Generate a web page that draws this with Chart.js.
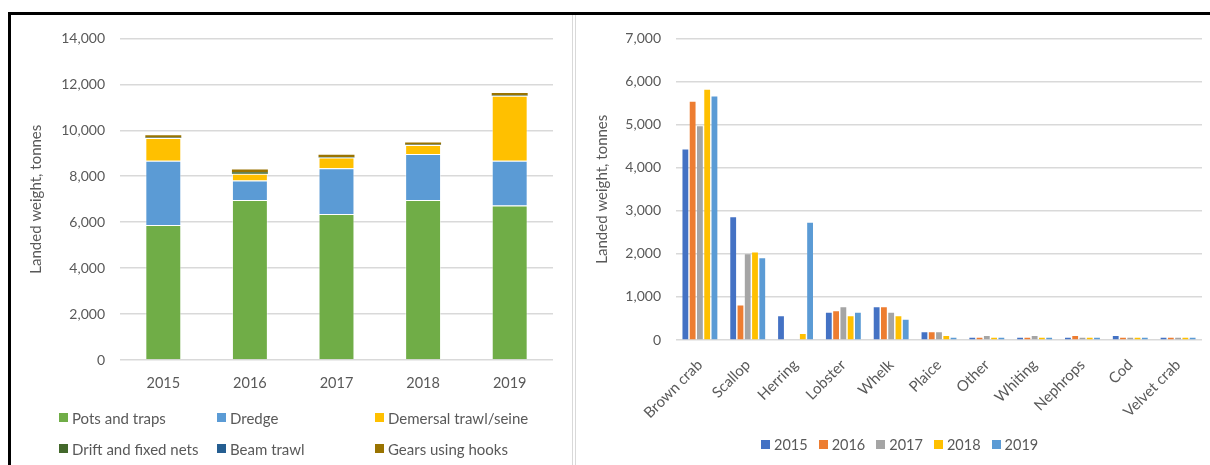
<!DOCTYPE html>
<html>
<head>
<meta charset="utf-8">
<script src="https://cdn.jsdelivr.net/npm/chart.js@4/dist/chart.umd.min.js"></script>
<style>
  body { margin: 0; width: 1210px; height: 465px; position: relative; background: #fff; overflow: hidden; font-family: Lato, sans-serif; }
  .frame-top { position: absolute; left: 8px; top: 12px; width: 1202px; height: 3px; background: #000; }
  .frame-left { position: absolute; left: 8px; top: 12px; width: 3px; height: 453px; background: #000; }
  .divider { position: absolute; top: 15px; width: 1px; height: 450px; background: #d9d9d9; }
  .box { position: absolute; top: 15px; height: 450px; }
  .legend { position: absolute; color: #595959; }
  .legend .item { display: flex; align-items: center; white-space: nowrap; }
  .legend .sw { width: 9px; height: 9px; margin-right: 4px; flex: none; }
  #legendLeft { left: 59px; top: 402px; font-size: 15px; display: grid; grid-template-columns: 158px 158px 158px; grid-auto-rows: 31px; }
  #legendRight { left: 761px; top: 435px; font-size: 14.5px; display: flex; height: 18px; }
  #legendRight .item { margin-right: 11px; }
</style>
</head>
<body>
<div class="frame-top"></div>
<div class="frame-left"></div>
<div class="divider" style="left:572px"></div>
<div class="divider" style="left:575px"></div>

<div class="box" style="left:11px;width:560px"><canvas id="gearChart"></canvas></div>
<div class="box" style="left:577px;width:633px"><canvas id="speciesChart"></canvas></div>
<div class="legend" id="legendLeft"></div>
<div class="legend" id="legendRight"></div>

<script>
// landings by gear type, tonnes
var years = ['2015', '2016', '2017', '2018', '2019'];
var potsAndTraps = [5880, 6970, 6360, 6970, 6730];
var dredge = [2790, 840, 1990, 2000, 1940];
var demersalTrawl = [990, 300, 460, 390, 2830];
var driftNets = [20, 60, 20, 10, 10];
var beamTrawl = [10, 10, 10, 10, 10];
var hooks = [90, 110, 100, 90, 100];

// landings by species, tonnes (one array per year)
var species = ['Brown crab', 'Scallop', 'Herring', 'Lobster', 'Whelk', 'Plaice', 'Other', 'Whiting', 'Nephrops', 'Cod', 'Velvet crab'];
var y2015 = [4420, 2850, 550, 630, 760, 180, 50, 50, 50, 90, 50];
var y2016 = [5530, 800, 0, 670, 760, 180, 50, 50, 90, 50, 50];
var y2017 = [4960, 1990, 0, 760, 630, 180, 90, 90, 50, 50, 50];
var y2018 = [5810, 2030, 140, 550, 550, 90, 50, 50, 50, 50, 50];
var y2019 = [5650, 1900, 2720, 630, 470, 50, 50, 50, 50, 50, 50];

var leftTicks = [0, 2000, 4000, 6000, 8000, 10000, 12000, 14000];
var rightTicks = [0, 1000, 2000, 3000, 4000, 5000, 6000, 7000];

var textColor = '#595959';
var gridColor = '#d9d9d9';
Chart.defaults.font.family = 'Lato, sans-serif';
Chart.defaults.color = textColor;

function legend(el, items) {
  var box = document.getElementById(el);
  items.forEach(function (d) {
    var it = document.createElement('div');
    it.className = 'item';
    it.innerHTML = '<span class="sw" style="background:' + d.backgroundColor + '"></span>' + d.label;
    box.appendChild(it);
  });
}

var gearSets = [
  { label: 'Pots and traps', data: potsAndTraps, backgroundColor: '#70ad47', borderWidth: 1 },
  { label: 'Dredge', data: dredge, backgroundColor: '#5b9bd5', borderWidth: 1 },
  { label: 'Demersal trawl/seine', data: demersalTrawl, backgroundColor: '#ffc000', borderWidth: 1 },
  { label: 'Drift  and fixed nets', data: driftNets, backgroundColor: '#43682b', borderWidth: 0 },
  { label: 'Beam trawl', data: beamTrawl, backgroundColor: '#255e91', borderWidth: 0 },
  { label: 'Gears using hooks', data: hooks, backgroundColor: '#997300', borderWidth: 0 }
];
gearSets.forEach(function (d) {
  d.borderColor = 'rgba(255,255,255,0.45)';
  d.categoryPercentage = 1;
  d.barPercentage = 0.415;
});

new Chart(document.getElementById('gearChart'), {
  type: 'bar',
  data: { labels: years, datasets: gearSets },
  options: {
    responsive: true,
    maintainAspectRatio: false,
    animation: false,
    locale: 'en-US',
    layout: { padding: { left: 0, top: 19, right: 18, bottom: 0 } },
    plugins: { legend: { display: false }, tooltip: { enabled: false } },
    scales: {
      x: {
        stacked: true,
        grid: { display: false },
        border: { display: false },
        ticks: { font: { size: 14.5 }, padding: 7 },
        afterFit: function (s) { s.height = 105; }
      },
      y: {
        stacked: true,
        min: 0,
        max: 14000,
        afterBuildTicks: function (s) { s.ticks = leftTicks.map(function (v) { return { value: v }; }); },
        grid: { color: gridColor, lineWidth: 1.5, drawTicks: false },
        border: { display: false },
        ticks: { font: { size: 14 }, padding: 15 },
        title: { display: true, text: 'Landed weight, tonnes', font: { size: 15 }, padding: { top: 16 } },
        afterFit: function (s) { s.width = 109; }
      }
    }
  }
});
legend('legendLeft', gearSets);

var yearSets = [
  { label: '2015', data: y2015, backgroundColor: '#4472c4' },
  { label: '2016', data: y2016, backgroundColor: '#ed7d31' },
  { label: '2017', data: y2017, backgroundColor: '#a5a5a5' },
  { label: '2018', data: y2018, backgroundColor: '#ffc000' },
  { label: '2019', data: y2019, backgroundColor: '#5b9bd5' }
];
yearSets.forEach(function (d) {
  d.borderWidth = 0;
  d.categoryPercentage = 0.76;
  d.barPercentage = 0.8;
});

new Chart(document.getElementById('speciesChart'), {
  type: 'bar',
  data: { labels: species, datasets: yearSets },
  options: {
    responsive: true,
    maintainAspectRatio: false,
    animation: false,
    locale: 'en-US',
    layout: { padding: { left: 0, top: 19, right: 8, bottom: 0 } },
    plugins: { legend: { display: false }, tooltip: { enabled: false } },
    scales: {
      x: {
        grid: { display: false },
        border: { display: false },
        ticks: { font: { size: 15 }, padding: 8, minRotation: 45, maxRotation: 45, autoSkip: false },
        afterFit: function (s) { s.height = 125; }
      },
      y: {
        min: 0,
        max: 7000,
        afterBuildTicks: function (s) { s.ticks = rightTicks.map(function (v) { return { value: v }; }); },
        grid: { color: gridColor, lineWidth: 1.5, drawTicks: false },
        border: { display: false },
        ticks: { font: { size: 14 }, padding: 15 },
        title: { display: true, text: 'Landed weight, tonnes', font: { size: 15 }, padding: { top: 16 } },
        afterFit: function (s) { s.width = 99; }
      }
    }
  }
});
legend('legendRight', yearSets);
</script>
</body>
</html>
